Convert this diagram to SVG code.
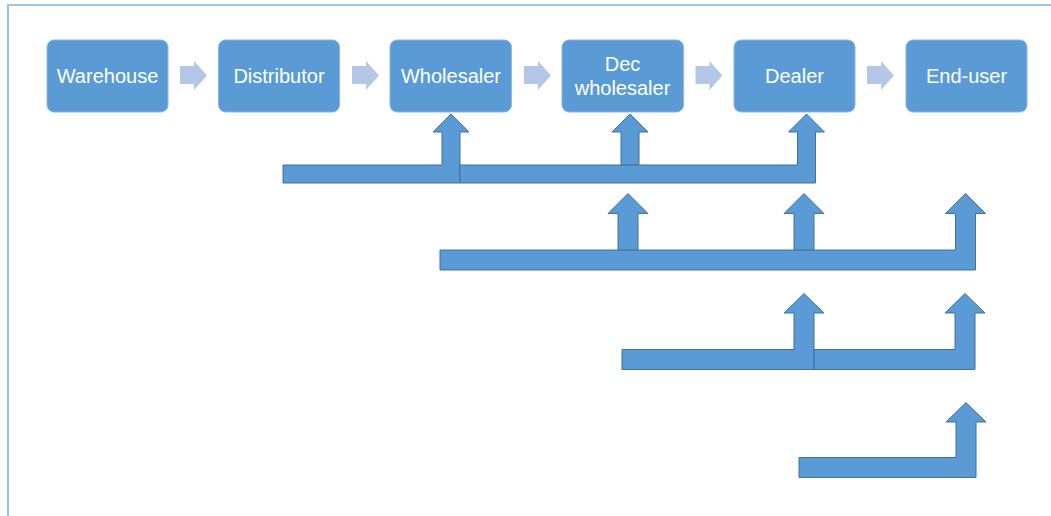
<svg xmlns="http://www.w3.org/2000/svg" xmlns:xlink="http://www.w3.org/1999/xlink" width="1051" height="516" viewBox="0 0 1051 516">
<style>
.node rect{fill:#5B9BD5;stroke:#8CB6E3;stroke-width:1}
.node text{fill:#fff;font-family:"Liberation Sans",Arial,sans-serif;font-size:20px;text-anchor:middle}
.chev{fill:#B4C7E7}
.conn path{fill:#5B9BD5;stroke:#41719C;stroke-width:1;stroke-linejoin:miter}
.frame{fill:none;stroke:#9DC3E6;stroke-width:2}
</style>
<defs>
<path id="chev" d="M0,66 H14 V61 L27,75.5 L14,90 V84 H0 Z"/>
</defs>
<rect width="1051" height="516" fill="#fff"/>
<path class="frame" d="M8,516 V5 H1051"/>
<g id="n-warehouse" class="node"><rect x="47" y="40" width="121" height="72" rx="7"/><text x="107.5" y="82.5">Warehouse</text></g>
<g id="n-distributor" class="node"><rect x="218.5" y="40" width="121" height="72" rx="7"/><text x="279" y="82.5">Distributor</text></g>
<g id="n-wholesaler" class="node"><rect x="390" y="40" width="121.5" height="72" rx="7"/><text x="451" y="82.5">Wholesaler</text></g>
<g id="n-decwholesaler" class="node"><rect x="562" y="40" width="121.5" height="72" rx="7"/><text x="622.5" y="71">Dec</text><text x="622.5" y="94.5">wholesaler</text></g>
<g id="n-dealer" class="node"><rect x="734" y="40" width="121" height="72" rx="7"/><text x="794.5" y="82.5">Dealer</text></g>
<g id="n-enduser" class="node"><rect x="906" y="40" width="121" height="72" rx="7"/><text x="966.5" y="82.5">End-user</text></g>
<g id="chevrons" class="chev">
<use xlink:href="#chev" x="180"/>
<use xlink:href="#chev" x="352"/>
<use xlink:href="#chev" x="524"/>
<use xlink:href="#chev" x="695.5"/>
<use xlink:href="#chev" x="867"/>
</g>
<g id="connectors" class="conn">
<path d="M283,165 H442 V132 H433 L451,114 L469,132 H460 V183 H283 Z"/>
<path d="M460,165 H797.5 V132 H788.5 L806.5,114 L824.5,132 H815.5 V183 H460 Z"/>
<path d="M621,165 V132 H612 L630,114 L648,132 H639 V165 Z"/>
<path d="M440,250 H955.5 V213.5 H945.5 L965.5,193.5 L985.5,213.5 H975.5 V270 H440 Z"/>
<path d="M618,250 V213.5 H608 L628,193.5 L648,213.5 H638 V250 Z"/>
<path d="M794,250 V213.5 H784 L804,193.5 L824,213.5 H814 V250 Z"/>
<path d="M622,349.5 H794 V313 H784 L804,293.5 L824,313 H814 V369.5 H622 Z"/>
<path d="M814,349.5 H955 V313 H945 L965,293.5 L985,313 H975 V369.5 H814 Z"/>
<path d="M799,457.5 H956 V422 H946 L966,402.5 L986,422 H976 V477.5 H799 Z"/>
</g>
</svg>
